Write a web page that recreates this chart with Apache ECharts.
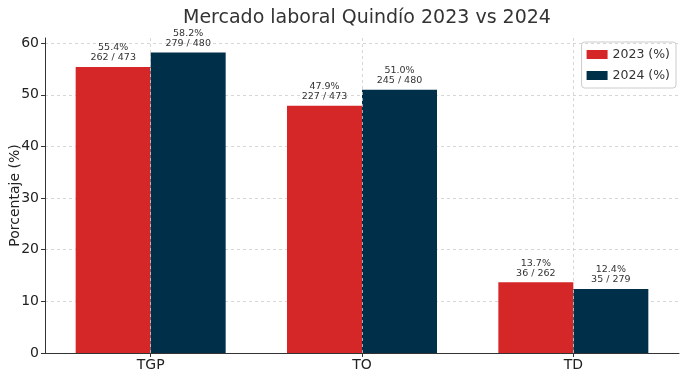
<!DOCTYPE html>
<html><head><meta charset="utf-8">
<script src="https://cdn.jsdelivr.net/npm/echarts@6/dist/echarts.min.js"></script>
<style>html,body{margin:0;padding:0;background:#fff}#c{width:686px;height:378px}</style>
</head><body><div id="c"></div>
<script>
const categories = ['TGP', 'TO', 'TD'];
const values2023 = [55.4, 47.9, 13.7];
const values2024 = [58.2, 51.0, 12.4];
const counts2023 = ['262 / 473', '227 / 473', '36 / 262'];
const counts2024 = ['279 / 480', '245 / 480', '35 / 279'];
const yTicks = [0, 10, 20, 30, 40, 50, 60];

const FONT = 'DejaVu Sans';
const chart = echarts.init(document.getElementById('c'), null, {renderer: 'canvas'});
function lbl(counts) {
  return {
    show: true, position: 'top', distance: 4,
    fontFamily: FONT, fontSize: 9.5, color: '#333', lineHeight: 10, align: 'center',
    formatter: p => p.value.toFixed(1) + '%\n' + counts[p.dataIndex]
  };
}
chart.setOption({
  animation: false,
  textStyle: {fontFamily: FONT},
  title: {text: 'Mercado laboral Quindío 2023 vs 2024', left: 362, top: 4, textAlign: 'center',
    textStyle: {fontFamily: FONT, fontSize: 19, fontWeight: 'normal', color: '#333'}},
  legend: {right: 10, top: 42, orient: 'vertical', itemWidth: 21, itemHeight: 9, itemGap: 8,
    padding: [6, 6, 6, 5], borderColor: '#ccc', borderWidth: 1, borderRadius: 3,
    textStyle: {fontFamily: FONT, fontSize: 12.5, color: '#333'}, icon: 'rect',
    data: ['2023 (%)', '2024 (%)']},
  grid: {left: 45, right: 7, top: 38, bottom: 25, containLabel: false, outerBoundsMode: 'none'},
  xAxis: {type: 'category', data: categories,
    axisLine: {lineStyle: {color: '#333'}}, axisTick: {show: true, alignWithLabel: true, length: 4, lineStyle: {color: '#333'}},
    axisLabel: {fontFamily: FONT, fontSize: 14, color: '#222', margin: 5}},
  yAxis: {type: 'value', min: 0, max: 61, interval: 10,
    name: 'Porcentaje (%)', nameLocation: 'middle', nameGap: 23, nameMoveOverlap: false,
    nameTextStyle: {fontFamily: FONT, fontSize: 14, color: '#222'},
    axisLine: {show: true, lineStyle: {color: '#333'}}, axisTick: {show: true, length: 4, lineStyle: {color: '#333'}},
    axisLabel: {fontFamily: FONT, fontSize: 14, color: '#222', margin: 6, showMaxLabel: false,
      formatter: v => yTicks.includes(v) ? String(v) : ''},
    splitLine: {show: true, showMaxLine: false, lineStyle: {color: '#ccc', type: [3, 3], width: 0.8}}},
  series: [
    {name: '2023 (%)', type: 'bar', data: values2023, barWidth: 75, barGap: '0%',
      itemStyle: {color: '#d62728'}, label: lbl(counts2023)},
    {name: '2024 (%)', type: 'bar', data: values2024, barWidth: 75,
      itemStyle: {color: '#003049'}, label: lbl(counts2024)},
    {name: 'grid', type: 'line', data: [], z: 10,
      markLine: {silent: true, symbol: 'none', label: {show: false},
        lineStyle: {color: '#ccc', type: [3, 3], width: 0.8},
        data: categories.map(c => ({xAxis: c}))}}
  ]
});
</script></body></html>
